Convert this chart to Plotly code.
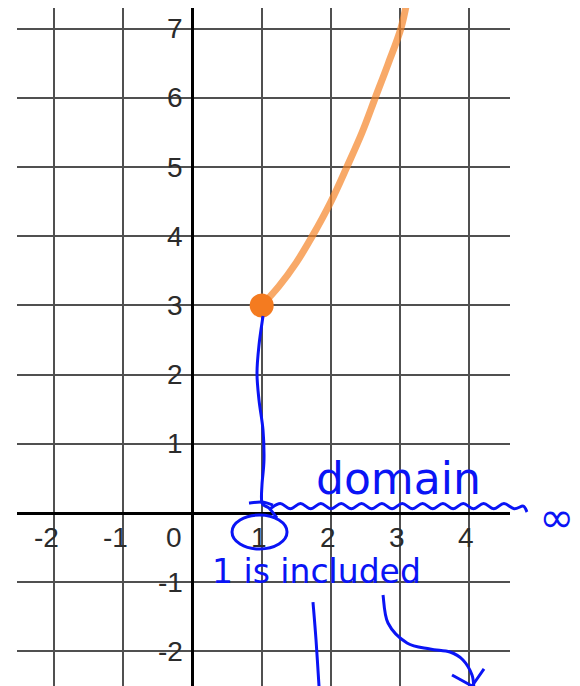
import plotly.graph_objects as go

# ---- data -------------------------------------------------------------
curve_x = [1.0, 1.25, 1.5, 1.73, 2.0, 2.23, 2.45, 2.64, 2.83, 3.01, 3.1]
curve_y = [3.0, 3.28, 3.62, 4.0, 4.5, 5.0, 5.5, 6.0, 6.5, 7.0, 7.4]
start_x = [1]
start_y = [3]

x_ticks = [-2, -1, 1, 2, 3, 4]
x_tick_labels = ["-2", "-1", "1", "2", "3", "4"]
y_ticks = [-2, -1, 1, 2, 3, 4, 5, 6, 7]
y_tick_labels = ["-2", "-1", "1", "2", "3", "4", "5", "6", "7"]
origin_label = "0"

X_RANGE = [-2.536, 4.588]
Y_RANGE = [-2.5, 7.3]

INK = "#0a14f5"
ORANGE_LINE = "rgba(245,132,40,0.7)"
ORANGE_DOT = "#f47b20"
LABEL_FONT = dict(family="Liberation Sans Narrow, Liberation Sans, Arial", size=28, color="#2b2b2b")
HAND_FONT = "DejaVu Sans"


def to_paper(x, y):
    return ((x - X_RANGE[0]) / (X_RANGE[1] - X_RANGE[0]),
            (y - Y_RANGE[0]) / (Y_RANGE[1] - Y_RANGE[0]))


def smooth_path(points):
    """Catmull-Rom spline through data-space points, as an SVG path in paper units."""
    pts = [to_paper(x, y) for x, y in points]
    d = "M {:.5f},{:.5f}".format(*pts[0])
    for i in range(len(pts) - 1):
        p0 = pts[i - 1] if i > 0 else pts[i]
        p1 = pts[i]
        p2 = pts[i + 1]
        p3 = pts[i + 2] if i + 2 < len(pts) else pts[i + 1]
        c1 = (p1[0] + (p2[0] - p0[0]) / 6, p1[1] + (p2[1] - p0[1]) / 6)
        c2 = (p2[0] - (p3[0] - p1[0]) / 6, p2[1] - (p3[1] - p1[1]) / 6)
        d += " C {:.5f},{:.5f} {:.5f},{:.5f} {:.5f},{:.5f}".format(*c1, *c2, *p2)
    return d


def ink_stroke(points, width=3):
    return dict(type="path", xref="paper", yref="paper", layer="above",
                path=smooth_path(points), line=dict(color=INK, width=width))


def hand_note(x, y, text, size):
    px, py = to_paper(x, y)
    return dict(x=px, y=py, xref="paper", yref="paper", text=text, showarrow=False,
                xanchor="left", yanchor="middle",
                font=dict(family=HAND_FONT, size=size, color=INK))


# ---- pen strokes (in graph units) ---------------------------------------
drop_line = [(1.019, 2.847), (0.961, 2.428), (0.932, 2.023), (0.961, 1.633),
             (1.019, 1.199), (1.033, 0.766), (1.004, 0.405), (1.004, 0.145),
             (1.105, 0.072), (1.221, -0.072)]
cross_mark = [(0.816, 0.145), (1.004, 0.159), (1.163, 0.116)]

wave = []
wx, half = 1.12, 0.147
k = 0
while wx < 4.70:
    wave.append((wx, 0.072 + (0.065 if k % 2 else -0.01)))
    wx += half
    k += 1
wave += [(4.78, 0.10), (4.834, 0.014)]

under_is = [(1.741, -1.286), (1.785, -1.835), (1.828, -2.5), (1.842, -2.7)]
arrow_body = [(2.753, -1.185), (2.825, -1.590), (3.100, -1.879), (3.432, -1.965),
              (3.721, -2.009), (3.909, -2.124), (4.039, -2.341), (4.068, -2.558)]
arrow_left = [(3.750, -2.341), (4.039, -2.500)]
arrow_right = [(4.212, -2.254), (4.039, -2.500)]

# ---- figure ------------------------------------------------------------
fig = go.Figure()
fig.add_trace(go.Scatter(x=curve_x, y=curve_y, mode="lines", line_shape="spline",
                         line=dict(color=ORANGE_LINE, width=7), hoverinfo="skip"))
fig.add_trace(go.Scatter(x=start_x, y=start_y, mode="markers",
                         marker=dict(color=ORANGE_DOT, size=24), hoverinfo="skip"))

annotations = []
for v, t in zip(y_ticks, y_tick_labels):
    annotations.append(dict(x=0, y=v, xref="x", yref="y", text=t, showarrow=False,
                            xanchor="right", yanchor="middle", xshift=-8, font=LABEL_FONT))
for v, t in zip(x_ticks, x_tick_labels):
    annotations.append(dict(x=v, y=0, xref="x", yref="y", text=t, showarrow=False,
                            xanchor="right", yanchor="middle", xshift=7, yshift=-24,
                            font=LABEL_FONT))
annotations.append(dict(x=0, y=0, xref="x", yref="y", text=origin_label, showarrow=False,
                        xanchor="right", yanchor="middle", xshift=-9, yshift=-24,
                        font=LABEL_FONT))

# handwritten notes
annotations.append(hand_note(1.757, 0.50, "domain", 44))
annotations.append(hand_note(0.253, -0.84, "1 is included", 33))
annotations.append(hand_note(4.98, -0.07, "∞", 42))

e0 = to_paper(0.571, -0.029)
e1 = to_paper(1.366, -0.520)
shapes = [
    ink_stroke(drop_line), ink_stroke(cross_mark), ink_stroke(wave),
    ink_stroke(under_is), ink_stroke(arrow_body), ink_stroke(arrow_left),
    ink_stroke(arrow_right),
    dict(type="circle", xref="paper", yref="paper", layer="above",
         x0=e0[0], y0=e0[1], x1=e1[0], y1=e1[1], line=dict(color=INK, width=3)),
]

axis_common = dict(dtick=1, tick0=0, showgrid=True, gridcolor="#505050", gridwidth=2,
                   zeroline=True, zerolinecolor="#000000", zerolinewidth=3,
                   showticklabels=False, ticks="", showline=False, fixedrange=True)
fig.update_layout(
    width=580, height=686,
    margin=dict(l=17, r=70, t=8, b=0, pad=0),
    paper_bgcolor="white", plot_bgcolor="white",
    showlegend=False,
    xaxis=dict(range=X_RANGE, **axis_common),
    yaxis=dict(range=Y_RANGE, **axis_common),
    annotations=annotations,
    shapes=shapes,
)

fig.write_html("out.html")
